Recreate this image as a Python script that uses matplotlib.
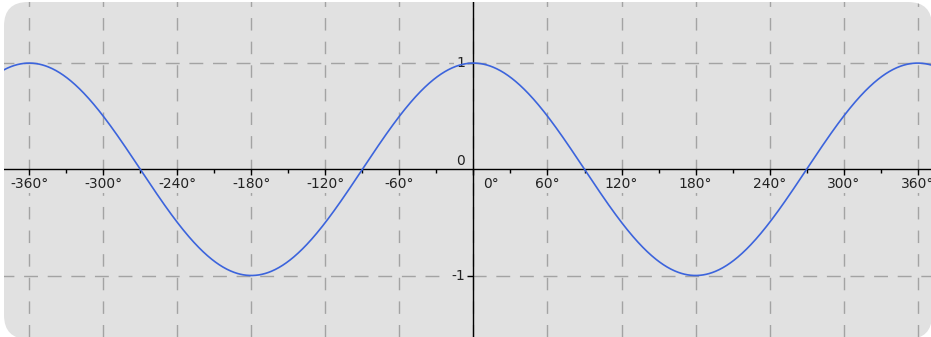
import numpy as np
import matplotlib
matplotlib.use("Agg")
import matplotlib.pyplot as plt
from matplotlib.patches import FancyBboxPatch

# function shown: y = A * cos(2*pi*x / period), x in degrees
amplitude = 1.0
period_deg = 360.0

x_ticks = [-360, -300, -240, -180, -120, -60, 0, 60, 120, 180, 240, 300, 360]
x_minor = [-330, -270, -210, -150, -90, -30, 30, 90, 150, 210, 270, 330]
y_ticks = [-1, 1]

bg = "#e1e1e1"
grid_col = "#a3a3a3"

fig = plt.figure(figsize=(9.31, 3.37), dpi=100)
fig.patch.set_facecolor("white")

ax = fig.add_axes([0, 0, 1, 1])
ax.set_facecolor("none")
ax.set_xlim(-383.7, 370.8)
ax.set_ylim(-1.579, 1.594)
for s in ax.spines.values():
    s.set_visible(False)
ax.set_xticks([])
ax.set_yticks([])

# rounded gray panel (pixel coords)
panel = FancyBboxPatch((4, -2), 928, 337,
                       boxstyle="round,pad=0,rounding_size=24",
                       transform=None, facecolor=bg, edgecolor="none", zorder=0)
ax.add_artist(panel)

artists = []
# dashed grid
for xv in x_ticks:
    artists.append(ax.axvline(xv, color=grid_col, lw=1, ls=(0, (9, 8)), zorder=1))
for yv in y_ticks:
    artists.append(ax.axhline(yv, color=grid_col, lw=1, ls=(0, (10, 7)), zorder=1))

# axes through origin
artists.append(ax.axhline(0, color="black", lw=1, zorder=3))
artists.append(ax.axvline(0, color="black", lw=1, zorder=3))

# tick marks
ax.plot(x_ticks, [0] * len(x_ticks), ls="none", marker=3, ms=4, color="black", mew=1, zorder=3)
ax.plot(x_minor, [0] * len(x_minor), ls="none", marker=3, ms=3, color="black", mew=1, zorder=3)
ax.plot([0] * len(y_ticks), y_ticks, ls="none", marker=0, ms=4, color="black", mew=1, zorder=3)

# curve
xs = np.linspace(-383.7, 370.8, 1500)
ys = amplitude * np.cos(2 * np.pi * xs / period_deg)
artists += ax.plot(xs, ys, color="#3c64dc", lw=1.2, zorder=4)

for a in artists:
    a.set_clip_path(panel)

# labels
lab_kw = dict(fontsize=10, color="#222222", zorder=2,
              bbox=dict(boxstyle="square,pad=0.15", fc=bg, ec="none"))
for xv in x_ticks:
    if xv == 0:
        ax.text(14, -0.14, "0°", ha="center", va="center", **lab_kw)
    else:
        ax.text(xv, -0.14, f"{xv}°", ha="center", va="center", **lab_kw)
ax.text(-7, 0.08, "0", ha="right", va="center", **lab_kw)
for yv in y_ticks:
    ax.text(-7, yv, f"{yv}", ha="right", va="center", **lab_kw)

fig.savefig("out.png", dpi=100, facecolor="white")
